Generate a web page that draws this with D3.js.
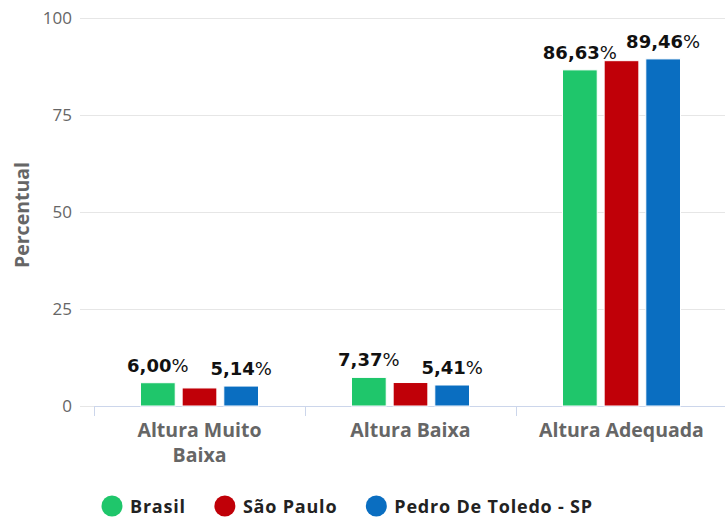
<!DOCTYPE html>
<html>
<head>
<meta charset="utf-8">
<script src="https://cdn.jsdelivr.net/npm/d3@7"></script>
<style>
  body { margin: 0; background: #fff; }
  svg { display: block; font-family: "Open Sans", sans-serif; }
</style>
</head>
<body>
<div id="corpo"></div>
<script>
// dados
var categorias = ["Altura Muito Baixa", "Altura Baixa", "Altura Adequada"];
var series = ["Brasil", "São Paulo", "Pedro De Toledo - SP"];
var cores = ["#1fc66b", "#c00008", "#0a6ec1"];
var valoresBrasil = [6.00, 7.37, 86.63];
var valoresSaoPaulo = [4.65, 6.05, 89.0];
var valoresPedro = [5.14, 5.41, 89.46];
var ticksY = [0, 25, 50, 75, 100];

var valores = [valoresBrasil, valoresSaoPaulo, valoresPedro];

var width = 725, height = 517;
var plotLeft = 94, plotRight = 727, plotTop = 18, plotBottom = 406;

var svg = d3.select("#corpo").append("svg")
  .attr("width", width)
  .attr("height", height);

var fmt = function(v) { return d3.format(".2f")(v).replace(".", ","); };

/*=== escalas ===*/
var x0 = d3.scaleBand().domain(categorias).range([plotLeft, plotRight]);
var x1 = d3.scaleBand().domain(series).range([0, 118]).paddingInner(0.1667);
var y = d3.scaleLinear().domain([0, 100]).range([plotBottom, plotTop]);

// grade
svg.append("g").selectAll("line")
  .data(ticksY)
  .enter().append("line")
  .attr("x1", 80).attr("x2", width)
  .attr("y1", function(d) { return y(d) + 0.5; })
  .attr("y2", function(d) { return y(d) + 0.5; })
  .attr("stroke", "#e6e6e6");

// rótulos do eixo y
svg.append("g").selectAll("text")
  .data(ticksY)
  .enter().append("text")
  .attr("x", 72)
  .attr("y", function(d) { return y(d) + 6; })
  .attr("text-anchor", "end")
  .attr("font-size", 17)
  .attr("fill", "#666")
  .text(function(d) { return d; });

svg.append("text")
  .attr("transform", "translate(29,215) rotate(-90)")
  .attr("text-anchor", "middle")
  .attr("font-size", 19.5)
  .attr("font-weight", 700)
  .attr("fill", "#666")
  .text("Percentual");

// eixo x
svg.append("line")
  .attr("x1", plotLeft).attr("x2", width)
  .attr("y1", plotBottom + 0.5).attr("y2", plotBottom + 0.5)
  .attr("stroke", "#ccd6eb");

svg.append("g").selectAll("line")
  .data(categorias)
  .enter().append("line")
  .attr("x1", function(d) { return x0(d) + 0.5; })
  .attr("x2", function(d) { return x0(d) + 0.5; })
  .attr("y1", plotBottom).attr("y2", plotBottom + 10)
  .attr("stroke", "#ccd6eb");

var catLabels = svg.append("g").selectAll("text")
  .data(categorias)
  .enter().append("text")
  .attr("x", function(d) { return x0(d) + x0.bandwidth() / 2; })
  .attr("y", 437)
  .attr("text-anchor", "middle")
  .attr("font-size", 19.5)
  .attr("font-weight", 700)
  .attr("fill", "#666");

// quebra de linha dos rótulos
catLabels.each(function(d) {
  var t = d3.select(this);
  var words = d.split(" ");
  var lines = [[]];
  var tmp = t.append("tspan");
  words.forEach(function(w) {
    var cur = lines[lines.length - 1];
    tmp.text(cur.concat([w]).join(" "));
    if (cur.length && tmp.node().getComputedTextLength() > 175) lines.push([w]);
    else cur.push(w);
  });
  tmp.remove();
  lines.forEach(function(l, i) {
    t.append("tspan")
      .attr("x", t.attr("x"))
      .attr("dy", i ? 25 : 0)
      .text(l.join(" "));
  });
});

/*=== barras ===*/
var grupos = svg.append("g").selectAll("g")
  .data(categorias)
  .enter().append("g")
  .attr("transform", function(d) { return "translate(" + (x0(d) + (x0.bandwidth() - 118) / 2) + ",0)"; });

var itens = grupos.selectAll("rect")
  .data(function(d, i) {
    return series.map(function(s, j) { return { serie: s, cor: cores[j], valor: valores[j][i] }; });
  })
  .enter();

itens.append("rect")
  .attr("x", function(d) { return x1(d.serie); })
  .attr("y", function(d) { return y(d.valor); })
  .attr("width", x1.bandwidth())
  .attr("height", function(d) { return y(0) - y(d.valor); })
  .attr("fill", function(d) { return d.cor; })
  .attr("stroke", "#fff")
  .attr("stroke-width", 1);

// rótulos de dados (esconde os que se sobrepõem)
grupos.each(function() {
  var g = d3.select(this);
  var kept = [];
  g.selectAll("rect").each(function(d) {
    var lbl = g.append("text")
      .attr("x", x1(d.serie) + x1.bandwidth() / 2)
      .attr("y", y(d.valor) - 11)
      .attr("text-anchor", "middle")
      .attr("font-family", "'DejaVu Sans', sans-serif")
      .attr("font-size", 18)
      .attr("fill", "#111");
    lbl.append("tspan").attr("font-weight", 700).text(fmt(d.valor));
    lbl.append("tspan").attr("font-weight", 400).text("%");
    var b = lbl.node().getBBox();
    var overlap = kept.some(function(k) {
      return b.x < k.x + k.width && b.x + b.width > k.x && b.y < k.y + k.height && b.y + b.height > k.y;
    });
    if (overlap) lbl.remove();
    else kept.push(b);
  });
});

/*=== legenda ===*/
var legenda = svg.append("g").attr("transform", "translate(0,506)");
var lx = 101;
series.forEach(function(s, i) {
  var item = legenda.append("g").attr("transform", "translate(" + lx + ",0)");
  item.append("circle").attr("cx", 11).attr("cy", 0).attr("r", 10.5).attr("fill", cores[i]);
  var t = item.append("text")
    .attr("x", 29).attr("y", 6.5)
    .attr("font-size", 18).attr("font-weight", 700)
    .attr("letter-spacing", 0.8)
    .attr("fill", "#222")
    .text(s);
  lx += 29 + t.node().getComputedTextLength() + 28;
});
</script>
</body>
</html>
